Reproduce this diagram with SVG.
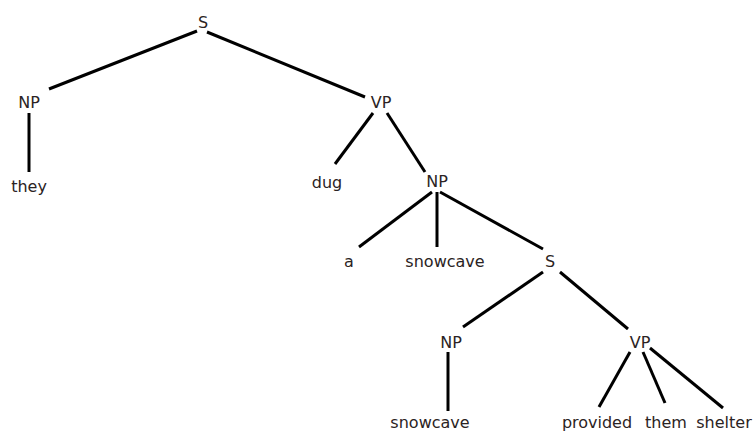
<svg xmlns="http://www.w3.org/2000/svg" width="754" height="432" viewBox="0 0 754 432">
<style>
text{font-family:"DejaVu Sans",Verdana,sans-serif;font-size:16px;fill:#2b2323;text-anchor:middle}
#edges line{stroke:#000;stroke-width:3;stroke-linecap:butt}
</style>
<rect width="754" height="432" fill="#fff"/>
<g id="edges">
<line x1="197" y1="31" x2="49" y2="89"/>
<line x1="207" y1="32" x2="365" y2="97"/>
<line x1="29" y1="113" x2="29" y2="172"/>
<line x1="373" y1="113" x2="335" y2="164"/>
<line x1="387" y1="113" x2="425" y2="172"/>
<line x1="432" y1="192" x2="359" y2="247"/>
<line x1="437" y1="192" x2="437" y2="247"/>
<line x1="440" y1="192" x2="543" y2="249"/>
<line x1="543" y1="272" x2="463" y2="327"/>
<line x1="560" y1="272" x2="628" y2="329"/>
<line x1="448" y1="352" x2="448" y2="411"/>
<line x1="630" y1="352" x2="599" y2="407"/>
<line x1="643" y1="352" x2="665" y2="403"/>
<line x1="650" y1="348" x2="723" y2="408"/>
</g>
<g id="n_S"><text x="203" y="28">S</text></g>
<g id="n_NP1"><text x="29" y="108">NP</text></g>
<g id="n_they"><text x="29" y="192">they</text></g>
<g id="n_VP1"><text x="381" y="108">VP</text></g>
<g id="n_dug"><text x="327" y="188">dug</text></g>
<g id="n_NP2"><text x="437" y="187">NP</text></g>
<g id="n_a"><text x="349" y="267">a</text></g>
<g id="n_snowcave1"><text x="445" y="267">snowcave</text></g>
<g id="n_S2"><text x="550" y="267">S</text></g>
<g id="n_NP3"><text x="451" y="348">NP</text></g>
<g id="n_VP2"><text x="640" y="348">VP</text></g>
<g id="n_snowcave2"><text x="430" y="428">snowcave</text></g>
<g id="n_provided"><text x="597" y="428">provided</text></g>
<g id="n_them"><text x="666" y="428">them</text></g>
<g id="n_shelter"><text x="724" y="428">shelter</text></g>
</svg>
